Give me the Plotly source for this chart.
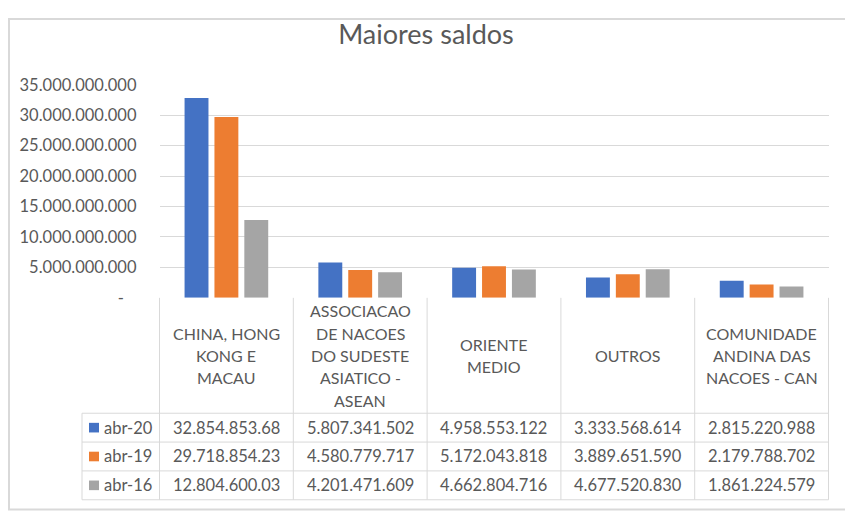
import plotly.graph_objects as go

W, H = 853, 521
OFF = 8  # the page body adds an 8px margin, so shift everything back

categories = [
    "CHINA, HONG<br>KONG E<br>MACAU",
    "ASSOCIACAO<br>DE NACOES<br>DO SUDESTE<br>ASIATICO -<br>ASEAN",
    "ORIENTE<br>MEDIO",
    "OUTROS",
    "COMUNIDADE<br>ANDINA DAS<br>NACOES - CAN",
]
series_names = ["abr-20", "abr-19", "abr-16"]
abr20 = [32854853680, 5807341502, 4958553122, 3333568614, 2815220988]
abr19 = [29718854230, 4580779717, 5172043818, 3889651590, 2179788702]
abr16 = [12804600030, 4201471609, 4662804716, 4677520830, 1861224579]
tick_vals = [0, 5e9, 10e9, 15e9, 20e9, 25e9, 30e9, 35e9]

colors = ["#4472C4", "#ED7D31", "#A5A5A5"]
TXT = "#595959"
LINE = "#D9D9D9"
FONT = "Lato"


def fmt(v):
    # pt-BR thousands separator
    return f"{int(round(v)):,}".replace(",", ".")


def px(x):
    return (x - OFF) / W


def py(y):
    return 1 - (y - OFF) / H


# plot area / table geometry, in screen pixels
x0, x1 = 159.5, 828.5
key_x = 82
y_top, y_zero = 77.5, 299
row_lines = [419, 449, 479, 509]
col_w = (x1 - x0) / len(categories)
line_h = 23.3

fig = go.Figure()
for name, vals, c in zip(series_names, [abr20, abr19, abr16], colors):
    fig.add_trace(go.Bar(x=list(range(len(categories))), y=vals, name=name,
                         marker_color=c, marker_line_width=0))

shapes = []
annos = []
line = dict(color=LINE, width=1)

# table grid
for i in range(len(categories) + 1):
    xx = x0 + i * col_w
    shapes.append(dict(type="line", xref="paper", yref="paper",
                       x0=px(xx), x1=px(xx), y0=py(y_zero), y1=py(row_lines[-1]), line=line))
shapes.append(dict(type="line", xref="paper", yref="paper",
                   x0=px(key_x), x1=px(key_x), y0=py(row_lines[0]), y1=py(row_lines[-1]), line=line))
for yy in row_lines:
    shapes.append(dict(type="line", xref="paper", yref="paper",
                       x0=px(key_x), x1=px(x1), y0=py(yy), y1=py(yy), line=line))

# header cells, one annotation per line so the spacing matches Excel
head_mid = (y_zero + row_lines[0]) / 2
for i, cat in enumerate(categories):
    parts = cat.split("<br>")
    for k, part in enumerate(parts):
        yc = head_mid + (k - (len(parts) - 1) / 2) * line_h
        annos.append(dict(xref="paper", yref="paper", x=px(x0 + (i + 0.5) * col_w),
                          y=py(yc), text=part, showarrow=False,
                          xanchor="center", yanchor="middle",
                          font=dict(family=FONT, size=16, color=TXT)))

# data rows
for r, (name, vals, c) in enumerate(zip(series_names, [abr20, abr19, abr16], colors)):
    yc = (row_lines[r] + row_lines[r + 1]) / 2
    shapes.append(dict(type="rect", xref="paper", yref="paper", line_width=0, fillcolor=c,
                       x0=px(89), x1=px(99), y0=py(yc + 5), y1=py(yc - 5)))
    annos.append(dict(xref="paper", yref="paper", x=px(102), y=py(yc), text=name,
                      showarrow=False, xanchor="left", yanchor="middle",
                      font=dict(family=FONT, size=16.5, color=TXT)))
    for i, v in enumerate(vals):
        # the column is too narrow, Excel clips the text to 13 characters
        annos.append(dict(xref="paper", yref="paper", x=px(x0 + (i + 0.5) * col_w), y=py(yc),
                          text=fmt(v)[:13], showarrow=False, xanchor="center", yanchor="middle",
                          font=dict(family=FONT, size=16.5, color=TXT)))

# outer chart frame (kept inside the visible part of the page)
shapes.append(dict(type="rect", xref="paper", yref="paper", x0=px(9), x1=px(850),
                   y0=py(519), y1=py(9), line=dict(color=LINE, width=2)))

tick_text = [fmt(v) if v else "-\u00a0\u00a0\u00a0" for v in tick_vals]

fig.update_layout(
    width=W, height=H, margin=dict(l=0, r=0, t=0, b=0),
    paper_bgcolor="white", plot_bgcolor="white",
    showlegend=False, bargap=0.33, bargroupgap=0.2,
    font=dict(family=FONT, color=TXT),
    title=dict(text="Maiores saldos", x=px(426), xanchor="center", y=py(35), yanchor="middle",
               font=dict(family=FONT, size=27, color=TXT)),
    xaxis=dict(domain=[px(x0), px(x1)], range=[-0.5, len(categories) - 0.5],
               showticklabels=False, showgrid=False, zeroline=False, fixedrange=True),
    yaxis=dict(domain=[py(y_zero), py(y_top)], range=[0, 35e9], tickvals=tick_vals,
               ticktext=tick_text, showgrid=True, gridcolor=LINE, gridwidth=1,
               zeroline=False, ticks="", ticklabelstandoff=22,
               tickfont=dict(family=FONT, size=16.5, color=TXT)),
    shapes=shapes, annotations=annos,
)

fig.write_html("out.html")
